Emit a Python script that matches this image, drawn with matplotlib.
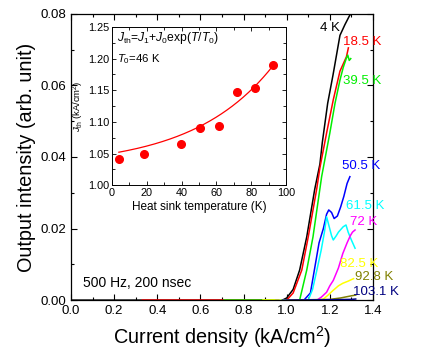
import numpy as np
import matplotlib
matplotlib.use("Agg")
import matplotlib.pyplot as plt
from matplotlib.ticker import MultipleLocator, FormatStrFormatter

plt.rcParams['font.family'] = ['Liberation Sans', 'DejaVu Sans']
plt.rcParams['mathtext.fontset'] = 'custom'
plt.rcParams['mathtext.rm'] = 'Liberation Sans'
plt.rcParams['mathtext.it'] = 'Liberation Sans:italic'
plt.rcParams['mathtext.bf'] = 'Liberation Sans:bold'

# ---- main panel data: current density (kA/cm^2) vs output intensity ----
labels = ["4 K", "18.5 K", "39.5 K", "50.5 K", "61.5 K", "72 K", "82.5 K", "92.8 K", "103.1 K"]
colors = ["#000000", "#FF0000", "#00EE00", "#0000FF", "#00FFFF", "#FF00FF", "#FFFF00", "#808000", "#000080"]

x_4K = [0.0, 0.98, 1.00, 1.03, 1.06, 1.093, 1.13, 1.154, 1.165, 1.19, 1.215, 1.247, 1.27, 1.293, 1.30]
y_4K = [0.0, 0.0, 0.0006, 0.003, 0.0084, 0.0177, 0.031, 0.038, 0.044, 0.055, 0.063, 0.074, 0.077, 0.0797, 0.080]

x_18K = [0.33, 1.00, 1.03, 1.07, 1.10, 1.139, 1.154, 1.185, 1.216, 1.247, 1.262, 1.277, 1.286]
y_18K = [0.0, 0.0, 0.002, 0.0084, 0.0177, 0.031, 0.037, 0.0467, 0.056, 0.064, 0.066, 0.068, 0.0705]

x_39K = [0.71, 1.06, 1.093, 1.122, 1.162, 1.20, 1.224, 1.247, 1.262, 1.276, 1.283, 1.29, 1.297]
y_39K = [0.0, 0.0, 0.0084, 0.0177, 0.0345, 0.0467, 0.055, 0.0615, 0.065, 0.0675, 0.0685, 0.067, 0.0675]

x_50K = [0.95, 1.08, 1.11, 1.13, 1.15, 1.17, 1.185, 1.195, 1.208, 1.22, 1.235, 1.25, 1.265, 1.28, 1.293]
y_50K = [0.0, 0.0, 0.002, 0.009, 0.016, 0.020, 0.024, 0.0252, 0.0245, 0.0228, 0.0235, 0.026, 0.029, 0.0326, 0.0345]

x_61K = [0.97, 1.10, 1.12, 1.14, 1.16, 1.175, 1.185, 1.195, 1.208, 1.216, 1.23, 1.24, 1.262, 1.275, 1.285, 1.30, 1.317]
y_61K = [0.0, 0.0, 0.003, 0.0084, 0.014, 0.019, 0.0233, 0.021, 0.018, 0.0168, 0.018, 0.019, 0.0205, 0.021, 0.019, 0.0168, 0.0145]

x_72K = [1.00, 1.14, 1.16, 1.185, 1.20, 1.216, 1.24, 1.26, 1.28, 1.295, 1.305, 1.317]
y_72K = [0.0, 0.0, 0.0008, 0.0022, 0.004, 0.0055, 0.009, 0.013, 0.016, 0.018, 0.019, 0.0196]

x_82K = [0.89, 1.15, 1.17, 1.19, 1.215, 1.24, 1.26, 1.285, 1.31]
y_82K = [0.0, 0.0, 0.0003, 0.0013, 0.0027, 0.004, 0.0047, 0.0053, 0.006]

x_92K = [1.00, 1.20, 1.25, 1.30, 1.32]
y_92K = [0.0, 0.0002, 0.0006, 0.0012, 0.0014]

x_103K = [0.98, 1.20, 1.30, 1.32]
y_103K = [0.0, 0.0001, 0.0002, 0.0003]

curves_x = [x_4K, x_18K, x_39K, x_50K, x_61K, x_72K, x_82K, x_92K, x_103K]
curves_y = [y_4K, y_18K, y_39K, y_50K, y_61K, y_72K, y_82K, y_92K, y_103K]

# label anchor positions (data coords)
label_x = [1.155, 1.261, 1.261, 1.255, 1.275, 1.293, 1.247, 1.317, 1.307]
label_y = [0.0760, 0.0722, 0.0613, 0.0375, 0.0263, 0.0219, 0.0101, 0.0064, 0.0022]

# ---- inset data ----
T_heat = [4, 18.5, 39.5, 50.5, 61.5, 72, 82.5, 92.8]
J_th = [1.042, 1.0495, 1.065, 1.090, 1.0935, 1.148, 1.154, 1.190]
J1_fit, J0_fit, T0_fit = 1.0287, 0.0214, 46.0

fig = plt.figure(figsize=(4.44, 3.56), dpi=100)
ax = fig.add_axes([0.160, 0.157, 0.680, 0.804])

for xs, ys, c in zip(curves_x, curves_y, colors):
    ax.plot(xs, ys, color=c, lw=1.1, zorder=3)

for lx, ly, lab, c in zip(label_x, label_y, labels, colors):
    ax.text(lx, ly, lab, color=c, fontsize=9.5, va='center', ha='left', clip_on=False, zorder=4)

ax.set_xlim(0.0, 1.4)
ax.set_ylim(0.0, 0.08)
ax.xaxis.set_major_locator(MultipleLocator(0.2))
ax.xaxis.set_minor_locator(MultipleLocator(0.1))
ax.yaxis.set_major_locator(MultipleLocator(0.02))
ax.yaxis.set_minor_locator(MultipleLocator(0.01))
ax.xaxis.set_major_formatter(FormatStrFormatter('%.1f'))
ax.yaxis.set_major_formatter(FormatStrFormatter('%.2f'))
ax.tick_params(which='both', direction='in', top=True, right=True, labelsize=9.5, width=0.8)
ax.tick_params(which='major', length=4.5)
ax.tick_params(which='minor', length=2.5)
for s in ax.spines.values():
    s.set_linewidth(0.9)
ax.set_xlabel("Current density (kA/cm$^2$)", fontsize=14.3, labelpad=5)
ax.set_ylabel("Output intensity (arb. unit)", fontsize=14.3, labelpad=3)
ax.text(0.056, 0.0048, "500 Hz, 200 nsec", fontsize=10, va='center', ha='left')

# ---- inset ----
ins = fig.add_axes([0.252, 0.480, 0.392, 0.444])
Tf = np.linspace(T_heat[0], T_heat[-1], 200)
ins.plot(Tf, J1_fit + J0_fit * np.exp(Tf / T0_fit), color='#FF0000', lw=0.9)
ins.plot(T_heat, J_th, 'o', color='#FF0000', ms=5.5, mec='#FF0000')
ins.set_xlim(0, 100)
ins.set_ylim(1.00, 1.25)
ins.xaxis.set_major_locator(MultipleLocator(20))
ins.xaxis.set_minor_locator(MultipleLocator(10))
ins.yaxis.set_major_locator(MultipleLocator(0.05))
ins.yaxis.set_minor_locator(MultipleLocator(0.025))
ins.yaxis.set_major_formatter(FormatStrFormatter('%.2f'))
ins.tick_params(which='both', direction='in', top=True, right=True, labelsize=7.8, width=0.6, pad=2)
ins.tick_params(which='major', length=3)
ins.tick_params(which='minor', length=2)
for s in ins.spines.values():
    s.set_linewidth(0.7)
ins.set_xlabel("Heat sink temperature (K)", fontsize=8.5, labelpad=2)
ins.set_ylabel(r"$J_{\rm th}$ (kA/cm$^2$)", fontsize=6.8, labelpad=1)
ins.text(0.03, 0.93, r"$J_{\rm th}$=$J_1$+$J_0$exp($T$/$T_0$)", transform=ins.transAxes,
         fontsize=8.7, va='center', ha='left')
ins.text(0.03, 0.80, r"$T_0$=46 K", transform=ins.transAxes, fontsize=8.2, va='center', ha='left')

fig.savefig("out.png", dpi=100)
